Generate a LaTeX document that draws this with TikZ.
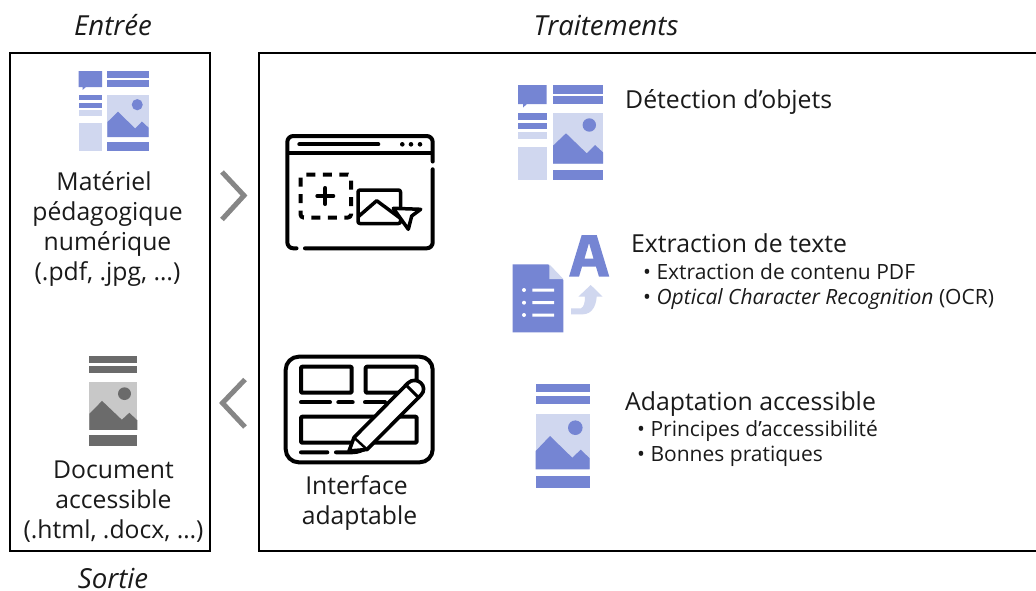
\documentclass[tikz,border=0pt]{standalone}
\usepackage{fontspec}
\setmainfont{Open Sans}
\definecolor{blu}{HTML}{7585D3}
\definecolor{lblu}{HTML}{D0D7EF}
\definecolor{gry}{HTML}{6B6B6B}
\definecolor{lgry}{HTML}{C8C8C8}
\definecolor{ink}{HTML}{1A1A1A}
\tikzset{
  frame/.style={draw=black,line width=2.2pt},
  chevron/.style={draw=gray!95,line width=5pt,line join=miter},
  txt/.style={font=\fontsize{24.7}{30}\selectfont,text=ink,inner sep=0pt,align=center},
  ttl/.style={font=\fontsize{27.6}{30}\selectfont\itshape,text=ink,inner sep=0pt},
  sub/.style={font=\fontsize{21}{25}\selectfont,text=ink,inner sep=0pt,anchor=base west},
  head/.style={font=\fontsize{24.8}{30}\selectfont,text=ink,inner sep=0pt,anchor=base west},
  ico/.style={draw=black,line width=4pt,line cap=round,line join=round},
}
% picture icon, local box 0..54 x 0..104
\newcommand{\docicon}[2]{%
  \fill[#1] (0,0) rectangle (54,8.3);
  \fill[#1] (0,11.7) rectangle (54,20.3);
  \fill[#2] (0,30.3) rectangle (54,85.3);
  \fill[#1] (0,67) -- (14.3,52) -- (36.6,73.7) -- (45,65.7) -- (54,74.3) -- (54,85.3) -- (0,85.3) -- cycle;
  \fill[#1] (39.6,43.7) circle (7.3);
  \fill[#1] (0,91.7) rectangle (54,104.3);
}
% page icon, local box 0..85 x 0..95
\newcommand{\pageicon}[2]{%
  \fill[#1] (0,0) -- (28.7,0) -- (28.7,19) -- (9,19) -- (5,22.5) -- (5,19) -- (0,19) -- cycle;
  \fill[#1] (35,0) rectangle (85,8.5);
  \fill[#1] (35,11) rectangle (85,19);
  \fill[#1] (0,28) rectangle (28.7,34.5);
  \fill[#1] (0,37.5) rectangle (28.7,44);
  \fill[#2] (0,46.5) rectangle (28.7,53.5);
  \fill[#2] (0,61.5) rectangle (28.7,95);
  \fill[#2] (35,28) rectangle (85,78.5);
  \fill[#1] (35,60.7) -- (48,48.3) -- (68.7,68.3) -- (77,60) -- (85,67.3) -- (85,78.5) -- (35,78.5) -- cycle;
  \fill[#1] (71.3,40) circle (6.7);
  \fill[#1] (35,84.5) rectangle (85,95);
}
\begin{document}
\begin{tikzpicture}[x=1pt,y=-1pt]
\useasboundingbox (0,0) rectangle (1036,590);
\fill[white] (0,0) rectangle (1036,590);
% frames
\draw[frame] (10.2,52.8) rectangle (210.2,551);
\draw[frame] (1036,52.8) -- (259,52.8) -- (259,551) -- (1036,551);
% titles
\node[ttl] (entree) at (113,25) {Entrée};
\node[ttl] (trait) at (606,25) {Traitements};
\node[ttl] (sortie) at (113,578) {Sortie};
% left column
\begin{scope}[shift={(78.5,71)},xscale=.824,yscale=.842]\pageicon{blu}{lblu}\end{scope}
\node[txt] (mat) at (107.5,229) {\mbox{Matériel\hspace{7pt}}\\pédagogique\\numérique\\(.pdf, .jpg, …)};
\begin{scope}[shift={(89.3,355.7)},xscale=.889,yscale=.869]\docicon{gry}{lgry}\end{scope}
\node[txt] (doc) at (113.5,501.5) {Document\\accessible\\(.html, .docx, …)};
% chevrons
\draw[chevron] (222,172) -- (244,195.5) -- (222,219.5);
\draw[chevron] (245,379.5) -- (222.5,403) -- (245,427);
% window icon
\draw[ico,rounded corners=6pt] (432.7,161.5) -- (432.7,136) -- (287.3,136) -- (287.3,248.3) -- (296.5,248.3);
\draw[ico,rounded corners=6pt] (305,248.3) -- (432.7,248.3) -- (432.7,169.3);
\draw[ico,line cap=butt] (287.3,152.7) -- (432.7,152.7);
\draw[ico] (299.3,144.3) -- (378.3,144.3);
\fill[black] (402.3,144.3) circle (2.3) (411,144.3) circle (2.3) (420,144.3) circle (2.3);
\draw[ico,rounded corners=3pt,dash pattern=on 9pt off 7.5pt,line cap=butt] (300.5,174.5) rectangle (351,217.5);
\draw[ico] (325.3,188) -- (325.3,204) (317.3,196) -- (333.3,196);
\draw[ico,line width=3.5pt,rounded corners=2pt] (358,190) rectangle (400.5,223.5);
\draw[ico,line width=3.5pt] (358.5,216.5) -- (376.7,200.7) -- (400,218);
\draw[ico,line width=3.5pt,fill=white] (393.3,208.3) -- (420.7,209.3) -- (411.7,216) -- (408.3,229.3) -- cycle;
% form icon
\draw[ico,rounded corners=13pt] (285.7,356.7) rectangle (432.7,462.3);
\draw[ico,rounded corners=1pt] (301,366.7) rectangle (351.7,392.7);
\draw[ico,rounded corners=1pt] (365.7,366.7) rectangle (416.7,392.7);
\draw[ico,rounded corners=1pt] (301,416.7) rectangle (416.7,442.7);
\draw[ico] (301,402.3) -- (330,402.3) (338.3,402.3) -- (352.7,402.3) (365,402.3) -- (385,402.3);
\draw[ico] (301,452.3) -- (327.3,452.3) (336,452.3) -- (352,452.3) .. controls (358,452.3) and (364,450) .. (369,446);
\draw[ico,line width=3.6pt,fill=white] (349,451) -- (354,437.5) -- (408,383) .. controls (412,379) and (418,380) .. (421,383) .. controls (424,386) and (425,391) .. (421,395) -- (367,449.5) -- cycle;
\draw[ico,line width=3pt] (406,385) -- (419,398);
\draw[ico,line width=2.5pt] (354,437.5) -- (367,449.5);
% right column icons
\begin{scope}[shift={(518,85)}]\pageicon{blu}{lblu}\end{scope}
\fill[blu] (512.7,264.3) -- (548.3,264.3) -- (563.3,280) -- (563.3,332.3) -- (512.7,332.3) -- cycle;
\fill[lblu] (549.3,264.3) -- (563.3,279) -- (549.3,279) -- cycle;
\fill[white] (524,290) circle (2) (524,302.7) circle (2) (524,315) circle (2);
\fill[white] (532.3,288.5) rectangle (554,291.5) (532.3,301.2) rectangle (554,304.2) (532.3,313.5) rectangle (554,316.5);
\fill[blu,even odd rule] (581.7,235) -- (596.7,235) -- (609.3,276.7) -- (599,276.7) -- (596,266.7) -- (582,266.7) -- (579,276.7) -- (569,276.7) -- cycle (589,243) -- (584.5,258.5) -- (593.5,258.5) -- cycle;
\fill[lblu] (590.7,285) -- (602.7,296.7) -- (596.7,296.7) .. controls (596,306) and (592,314) .. (583,314.3) -- (571,314.3) -- (571,308.3) -- (581,308.3) .. controls (584,307) and (585,302) .. (585,296.7) -- (578.3,296.7) -- cycle;
\begin{scope}[shift={(535.7,384)}]\docicon{blu}{lblu}\end{scope}
% right column text
\node[head] (det) at (625,108) {Détection d’objets};
\node[head] (ext) at (631,252) {Extraction de texte};
\node[sub] (e1) at (643,279) {• Extraction de contenu PDF};
\node[sub] (e2) at (643,304) {• \textit{Optical Character Recognition} (OCR)};
\node[head] (ada) at (625,410) {Adaptation accessible};
\node[sub] (a1) at (637,436) {• Principes d’accessibilité};
\node[sub] (a2) at (637,461) {• Bonnes pratiques};
\node[txt] (iface) at (359.5,503) {\mbox{Interface\hspace{6pt}}\\adaptable};
\end{tikzpicture}
\end{document}
